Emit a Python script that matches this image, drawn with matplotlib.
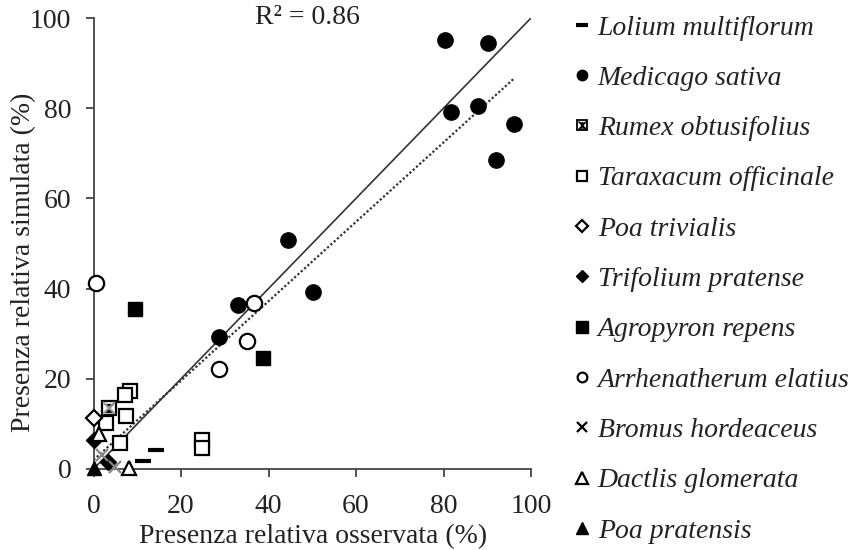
import matplotlib
matplotlib.use("Agg")
import matplotlib.pyplot as plt
from matplotlib.lines import Line2D
from matplotlib.legend_handler import HandlerTuple
import numpy as np

# ---- data (observed x, simulated y) ----
lolium_x = [14.3, 11.3]
lolium_y = [4.2, 1.7]
medicago_x = [80.3, 90.2, 81.7, 87.9, 96.1, 92.0, 44.5, 50.2, 33.0, 28.7]
medicago_y = [95.1, 94.5, 79.2, 80.5, 76.5, 68.5, 50.8, 39.2, 36.4, 29.3]
rumex_x = [3.5]
rumex_y = [13.5]
taraxacum_x = [24.8, 24.8, 8.3, 7.3, 7.4, 6.1, 2.8]
taraxacum_y = [6.4, 4.7, 17.3, 16.3, 11.8, 5.8, 10.2]
poa_triv_x = [0.2]
poa_triv_y = [11.3]
trifolium_x = [0.2, 3.2]
trifolium_y = [6.5, 1.5]
agropyron_x = [9.5, 38.7]
agropyron_y = [35.5, 24.6]
arrhen_x = [0.5, 36.7, 35.1, 28.7]
arrhen_y = [41.2, 36.8, 28.4, 22.2]
bromus_x = [5.0, 2.0]
bromus_y = [0.5, 3.0]
dactlis_x = [8.1, 1.2]
dactlis_y = [0.3, 7.8]
poa_prat_x = [0.0]
poa_prat_y = [0.3]

# fitted regression and 1:1 line
reg_slope = 0.88
reg_intercept = 2.0
reg_range = [0, 96]
one_to_one = [0, 100]
r2_text = "R² = 0.86"

labels = ["Lolium multiflorum", "Medicago sativa", "Rumex obtusifolius",
          "Taraxacum officinale", "Poa trivialis", "Trifolium pratense",
          "Agropyron repens", "Arrhenatherum elatius", "Bromus hordeaceus",
          "Dactlis glomerata", "Poa pratensis"]

plt.rcParams['font.family'] = ['Liberation Serif', 'DejaVu Serif']
TXT = '#222222'
FS = 20

fig = plt.figure(figsize=(8.55, 5.5), dpi=100)
ax = fig.add_axes([93.5/855, 81/550, (531-93.5)/855, (469-18)/550])
ax.set_xlim(0, 100)
ax.set_ylim(0, 100)

# lines
ax.plot(one_to_one, one_to_one, color='#333333', lw=1.2, zorder=1)
rx = np.array(reg_range, dtype=float)
ax.plot(rx, reg_intercept + reg_slope*rx, color='#333333', lw=1.6,
        linestyle=(0, (1, 1)), zorder=1)

K = 'black'
ms = 10
mew = 1.6
common = dict(linestyle='none', clip_on=False, zorder=3)

bowtie = [(-1, 1), (1, 1), (0, 0), (1, -1), (-1, -1), (0, 0), (-1, 1)]

ax.plot(lolium_x, lolium_y, marker='_', ms=12, mew=3, color=K, **common)
ax.plot(medicago_x, medicago_y, marker='o', ms=11, color=K, mec=K, **common)
ax.plot(taraxacum_x, taraxacum_y, marker='s', ms=ms, mfc='white', mec=K, mew=mew, **common)
ax.plot(rumex_x, rumex_y, marker='s', ms=ms, mfc='white', mec=K, mew=mew, **common)
ax.plot(rumex_x, rumex_y, marker=bowtie, ms=ms*0.62, mfc=K, mec=K, mew=0.5, **common)
ax.plot(rumex_x, rumex_y, marker='x', ms=ms*0.9, mec='#999999', mew=1.5, **common)
ax.plot(poa_triv_x, poa_triv_y, marker='D', ms=8, mfc='white', mec=K, mew=mew, **common)
ax.plot(trifolium_x, trifolium_y, marker='D', ms=8, mfc=K, mec=K, **common)
ax.plot(agropyron_x, agropyron_y, marker='s', ms=ms, mfc=K, mec=K, **common)
ax.plot(arrhen_x, arrhen_y, marker='o', ms=11, mfc='white', mec=K, mew=mew, **common)
ax.plot(bromus_x, bromus_y, marker='x', ms=9, mec='#888888', mew=1.6, **common)
ax.plot(dactlis_x, dactlis_y, marker='^', ms=10, mfc='white', mec=K, mew=mew, **common)
ax.plot(poa_prat_x, poa_prat_y, marker='^', ms=10, mfc=K, mec=K, **common)

# axes style
for s in ['top', 'right']:
    ax.spines[s].set_visible(False)
for s in ['left', 'bottom']:
    ax.spines[s].set_color('#444444')
    ax.spines[s].set_linewidth(1.3)
ax.set_xticks([0, 20, 40, 60, 80, 100])
ax.set_yticks([0, 20, 40, 60, 80, 100])
ax.tick_params(direction='out', length=6, width=1.3, color='#444444',
               labelsize=FS, labelcolor=TXT)
ax.tick_params(axis='x', pad=12)
ax.tick_params(axis='y', pad=10)
ax.set_xlabel("Presenza relativa osservata (%)", fontsize=FS, color=TXT, va='center')
ax.xaxis.set_label_coords(0.502, -(537-469)/451)
ax.set_ylabel("Presenza relativa simulata (%)", fontsize=FS, color=TXT, va='center')
ax.yaxis.set_label_coords((24-93.5)/437.5, (469-262)/451)
ax.text(49, 100, r2_text, fontsize=FS, color=TXT, ha='center', va='center')

# legend
lms = 7
handles = [
    Line2D([], [], marker='_', ms=9, mew=3, color=K, linestyle='none'),
    Line2D([], [], marker='o', ms=lms+0.5, color=K, linestyle='none'),
    (Line2D([], [], marker='s', ms=lms, mfc='white', mec=K, mew=1.3, linestyle='none'),
     Line2D([], [], marker=bowtie, ms=lms*0.6, mfc=K, mec=K, mew=0.4, linestyle='none'),
     Line2D([], [], marker='x', ms=lms*0.85, mec=K, mew=1.0, linestyle='none')),
    Line2D([], [], marker='s', ms=lms, mfc='white', mec=K, mew=1.6, linestyle='none'),
    Line2D([], [], marker='D', ms=6, mfc='white', mec=K, mew=1.6, linestyle='none'),
    Line2D([], [], marker='D', ms=6, mfc=K, mec=K, linestyle='none'),
    Line2D([], [], marker='s', ms=lms+1, mfc=K, mec=K, linestyle='none'),
    Line2D([], [], marker='o', ms=lms, mfc='white', mec=K, mew=1.6, linestyle='none'),
    Line2D([], [], marker='x', ms=lms, mec=K, mew=1.6, linestyle='none'),
    Line2D([], [], marker='^', ms=lms+1, mfc='white', mec=K, mew=1.6, linestyle='none'),
    Line2D([], [], marker='^', ms=lms+1, mfc=K, mec=K, linestyle='none'),
]
leg = fig.legend(handles, labels, loc='upper left', bbox_to_anchor=(563/855, 1 - 4/550),
                 frameon=False, handlelength=0.6, handletextpad=0.25,
                 labelspacing=0.895, borderaxespad=0,
                 prop={'family': 'Liberation Serif', 'style': 'italic', 'size': FS},
                 handler_map={tuple: HandlerTuple(ndivide=1, pad=0)})
for t in leg.get_texts():
    t.set_color(TXT)

fig.savefig("out.png", dpi=100)
